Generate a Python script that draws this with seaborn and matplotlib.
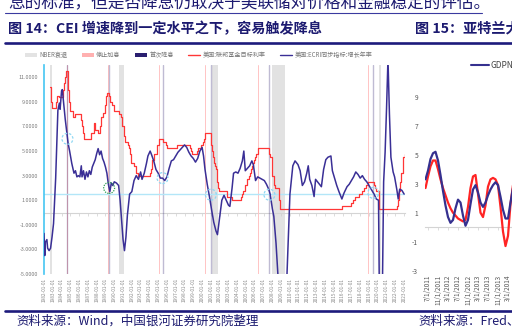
import numpy as np
import pandas as pd
import matplotlib
matplotlib.use("Agg")
import matplotlib.pyplot as plt
from matplotlib.patches import Patch
from matplotlib.lines import Line2D
import seaborn as sns

# ---------------- data: left panel ----------------
# US ECRI coincident index, growth rate yoy (%)
ecri_dates = [
    "1982-01-01", "1982-02-01", "1982-03-01", "1982-05-01", "1982-06-01", "1982-08-01", "1982-10-01",
    "1982-12-01", "1983-02-01", "1983-03-01", "1983-05-01", "1983-07-01", "1983-08-01", "1983-10-01",
    "1983-11-01", "1984-01-01", "1984-02-01", "1984-04-01", "1984-06-01", "1984-08-01", "1984-10-01",
    "1984-12-01", "1985-03-01", "1985-06-01", "1985-08-01", "1985-10-01", "1985-12-01", "1986-02-01",
    "1986-04-01", "1986-05-01", "1986-07-01", "1986-09-01", "1986-11-01", "1987-01-01", "1987-03-01",
    "1987-05-01", "1987-07-01", "1987-09-01", "1987-11-01", "1988-01-01", "1988-03-01", "1988-05-01",
    "1988-07-01", "1988-09-01", "1988-11-01", "1989-01-01", "1989-03-01", "1989-05-01", "1989-07-01",
    "1989-09-01", "1989-11-01", "1990-01-01", "1990-04-01", "1990-07-01", "1990-09-01", "1990-11-01",
    "1991-01-01", "1991-03-01", "1991-05-01", "1991-07-01", "1991-10-01", "1992-01-01", "1992-04-01",
    "1992-07-01", "1992-10-01", "1993-01-01", "1993-03-01", "1993-06-01", "1993-09-01", "1993-11-01",
    "1994-02-01", "1994-04-01", "1994-07-01", "1994-10-01", "1995-01-01", "1995-04-01", "1995-07-01",
    "1995-10-01", "1996-01-01", "1996-04-01", "1996-07-01", "1996-10-01", "1997-01-01", "1997-04-01",
    "1997-07-01", "1997-10-01", "1998-01-01", "1998-04-01", "1998-07-01", "1998-10-01", "1999-01-01",
    "1999-04-01", "1999-07-01", "1999-10-01", "2000-01-01", "2000-03-01", "2000-05-01", "2000-08-01",
    "2000-11-01", "2001-02-01", "2001-05-01", "2001-08-01", "2001-10-01", "2002-01-01", "2002-04-01",
    "2002-07-01", "2002-10-01", "2003-01-01", "2003-03-01", "2003-06-01", "2003-08-01", "2003-11-01",
    "2004-02-01", "2004-05-01", "2004-08-01", "2004-10-01", "2004-12-01", "2005-03-01", "2005-06-01",
    "2005-09-01", "2005-11-01", "2006-02-01", "2006-05-01", "2006-08-01", "2006-11-01", "2007-02-01",
    "2007-05-01", "2007-08-01", "2007-10-01", "2008-01-01", "2008-03-01", "2008-06-01", "2008-09-01",
    "2009-01-01", "2009-05-01", "2009-09-01", "2010-01-01", "2010-05-01", "2010-08-01", "2010-12-01",
    "2011-03-01", "2011-06-01", "2011-09-01", "2011-12-01", "2012-02-01", "2012-04-01", "2012-07-01",
    "2012-10-01", "2012-12-01", "2013-04-01", "2013-08-01", "2013-11-01", "2014-02-01", "2014-05-01",
    "2014-09-01", "2014-11-01", "2015-02-01", "2015-05-01", "2015-08-01", "2015-12-01", "2016-03-01",
    "2016-07-01", "2016-10-01", "2017-01-01", "2017-04-01", "2017-07-01", "2017-10-01", "2018-01-01",
    "2018-04-01", "2018-07-01", "2018-10-01", "2019-01-01", "2019-04-01", "2019-08-01", "2019-11-01",
    "2020-02-01", "2020-04-01", "2020-07-01", "2020-09-01", "2020-11-01", "2021-01-01", "2021-03-01",
    "2021-05-01", "2021-07-01", "2021-10-01", "2021-12-01", "2022-03-01", "2022-05-01", "2022-07-01",
    "2022-10-01", "2023-01-01",
]
ecri_values = [
    -1.7, -3.5, -2.4, -2.2, -2.9, -3.1, -2.9,
    -2.0, -0.9, 0.3, 2.8, 6.5, 8.3, 8.9,
    8.4, 9.9, 10.0, 8.8, 7.6, 6.6, 5.6,
    5.0, 4.0, 3.2, 3.4, 2.9, 3.0, 2.9,
    3.8, 2.9, 3.4, 2.7, 3.3, 2.9, 3.4,
    3.1, 3.7, 4.0, 4.3, 4.8, 5.2, 4.7,
    5.0, 4.4, 4.1, 3.7, 3.2, 2.3, 1.7,
    2.4, 2.2, 2.5, 2.4, 2.2, 1.0, -0.6,
    -2.2, -3.1, -2.0, -0.2, 1.5, 1.7, 2.6,
    3.0, 2.7, 3.3, 2.7, 3.2, 4.0, 4.6,
    5.0, 4.7, 4.2, 3.5, 3.2, 2.8, 2.8,
    2.6, 2.9, 3.6, 4.2, 4.3, 4.6, 4.9,
    5.1, 5.3, 5.5, 5.3, 4.9, 4.6, 4.4,
    4.1, 4.4, 5.0, 5.3, 4.6, 3.5, 2.3,
    1.3, 0.2, -0.8, -1.5, -1.8, -0.4, 1.0,
    1.4, 1.0, 0.6, 0.5, 2.0, 3.2, 3.3,
    3.2, 3.6, 4.2, 5.0, 3.4, 3.6, 3.8,
    4.2, 3.9, 2.6, 2.9, 2.8, 2.7, 2.6,
    2.3, 1.9, 1.5, 0.3, -0.3, -2.5, -5.5,
    -10.0, -9.0, -5.0, 1.5, 3.8, 4.2, 3.9,
    3.4, 2.2, 2.5, 3.2, 3.8, 2.7, 2.2,
    1.3, 2.7, 2.4, 2.1, 3.5, 4.3, 4.5,
    4.6, 3.4, 2.8, 2.2, 1.7, 1.1, 1.6,
    2.1, 2.3, 2.6, 2.9, 3.3, 3.1, 2.8,
    3.0, 2.7, 2.5, 2.2, 1.9, 1.5, 1.1,
    1.0, -12.0, -8.0, 2.5, 4.9, 8.5, 12.5,
    8.0, 4.5, 3.3, 2.9, 1.9, 1.1, 1.9,
    1.8, 1.5,
]

# US federal funds target rate (%)
ffr_dates = [
    "1982-09-01", "1982-10-01", "1982-11-01", "1982-12-01", "1983-05-01", "1983-06-01", "1983-07-01",
    "1983-10-01", "1984-03-01", "1984-04-01", "1984-06-01", "1984-07-01", "1984-10-01", "1984-11-01",
    "1984-12-01", "1985-05-01", "1985-07-01", "1986-03-01", "1986-05-01", "1986-07-01", "1986-08-01",
    "1987-05-01", "1987-09-01", "1987-11-01", "1988-03-01", "1988-05-01", "1988-07-01", "1988-09-01",
    "1988-12-01", "1989-02-01", "1989-03-01", "1989-06-01", "1989-07-01", "1989-10-01", "1989-12-01",
    "1990-07-01", "1990-10-01", "1990-11-01", "1990-12-01", "1991-02-01", "1991-04-01", "1991-08-01",
    "1991-09-01", "1991-11-01", "1991-12-01", "1992-04-01", "1992-07-01", "1992-09-01", "1994-02-01",
    "1994-03-01", "1994-04-01", "1994-05-01", "1994-08-01", "1994-11-01", "1995-02-01", "1995-07-01",
    "1995-12-01", "1996-01-01", "1997-03-01", "1998-09-01", "1998-10-01", "1998-11-01", "1999-06-01",
    "1999-08-01", "1999-11-01", "2000-02-01", "2000-03-01", "2000-05-01", "2001-01-01", "2001-03-01",
    "2001-04-01", "2001-05-01", "2001-06-01", "2001-08-01", "2001-09-01", "2001-10-01", "2001-11-01",
    "2001-12-01", "2002-11-01", "2003-06-01", "2004-06-01", "2004-08-01", "2004-09-01", "2004-11-01",
    "2004-12-01", "2005-02-01", "2005-03-01", "2005-05-01", "2005-06-01", "2005-08-01", "2005-09-01",
    "2005-11-01", "2005-12-01", "2006-01-01", "2006-03-01", "2006-05-01", "2006-06-01", "2007-09-01",
    "2007-10-01", "2007-12-01", "2008-01-01", "2008-03-01", "2008-04-01", "2008-10-01", "2008-12-01",
    "2015-12-01", "2016-12-01", "2017-03-01", "2017-06-01", "2017-12-01", "2018-03-01", "2018-06-01",
    "2018-09-01", "2018-12-01", "2019-08-01", "2019-09-01", "2019-10-01", "2020-03-01", "2022-03-01",
    "2022-05-01", "2022-06-01", "2022-07-01", "2022-09-01", "2022-11-01", "2022-12-01", "2023-02-01",
]
ffr_values = [
    10.25, 9.5, 9.0, 8.5, 8.75, 9.0, 9.5,
    9.4, 10.0, 10.5, 11.0, 11.5, 10.0, 9.0,
    8.25, 7.75, 8.0, 7.5, 7.0, 6.5, 6.0,
    6.5, 7.25, 6.75, 6.5, 7.0, 7.75, 8.125,
    8.75, 9.5, 9.75, 9.5, 9.0, 8.75, 8.25,
    8.0, 7.75, 7.5, 7.0, 6.25, 5.75, 5.5,
    5.25, 4.75, 4.0, 3.75, 3.25, 3.0, 3.25,
    3.5, 3.75, 4.25, 4.75, 5.5, 6.0, 5.75,
    5.5, 5.25, 5.5, 5.25, 5.0, 4.75, 5.0,
    5.25, 5.5, 5.75, 6.0, 6.5, 5.5, 5.0,
    4.5, 4.0, 3.75, 3.5, 3.0, 2.5, 2.0,
    1.75, 1.25, 1.0, 1.25, 1.5, 1.75, 2.0,
    2.25, 2.5, 2.75, 3.0, 3.25, 3.5, 3.75,
    4.0, 4.25, 4.5, 4.75, 5.0, 5.25, 4.75,
    4.5, 4.25, 3.0, 2.25, 2.0, 1.0, 0.25,
    0.5, 0.75, 1.0, 1.25, 1.5, 1.75, 2.0,
    2.25, 2.5, 2.25, 2.0, 1.75, 0.25, 0.5,
    1.0, 1.75, 2.5, 3.25, 4.0, 4.5, 4.75,
]

nber_start = ["1982-09-01", "1990-07-01", "2001-03-01", "2007-12-01", "2020-02-01"]
nber_end = ["1982-12-15", "1991-03-01", "2001-11-01", "2009-06-01", "2020-05-01"]
hike_stop_dates = ["1984-08-01", "1989-05-01", "1995-02-01", "2000-05-01", "2006-06-01", "2018-12-01"]
first_cut_dates = ["1984-09-01", "1989-06-01", "1995-07-01", "2001-01-01", "2007-09-01", "2019-07-01"]
cut_marker_values = [6.0, 2.0, 2.8, 1.45, 1.45, 1.6]
cut_marker_kind = ["c", "g", "c", "c", "c", "c"]
threshold_level = 1.5
year_ticks = list(range(1982, 2024))
y_ticks_left = [-5, -3, -1, 1, 3, 5, 7, 9, 11]

# ---------------- data: right panel ----------------
gdp_months = pd.date_range("2011-06-01", "2014-05-01", freq="MS")
gdpnow_values = [
    3.3, 3.9, 4.7, 5.1, 5.2, 4.6, 3.6,
    2.5, 1.5, 0.7, 0.3, 0.5, 1.3, 1.9, 1.7, 0.8, 0.1, 0.5, 1.6,
    2.6, 2.9, 2.4, 1.7, 1.4, 1.7, 2.2, 2.6, 2.9, 3.1, 2.9, 2.1,
    1.2, 0.6, 0.6, 1.7, 2.7,
]
gdp_actual_values = [
    2.7, 3.5, 4.2, 4.6, 4.6, 4.0, 3.3,
    2.7, 2.2, 1.7, 1.3, 1.0, 0.8, 0.6, 0.5, 0.4, 0.5, 1.4, 2.7,
    3.5, 3.6, 2.3, 1.0, 0.7, 1.5, 2.8, 3.3, 3.4, 3.3, 2.9, 1.4,
    -0.3, -1.3, -0.6, 1.6, 2.9,
]
right_y_ticks = [-3, -1, 1, 3, 5, 7, 9]

# ---------------- style ----------------
sns.set_theme(style="white")
plt.rcParams["font.family"] = ["Noto Sans CJK SC", "DejaVu Sans"]
plt.rcParams["axes.unicode_minus"] = False

NAVY = "#3a2f96"
RED = "#ff3636"
TXT_NAVY = "#1c1a70"
CYAN = "#45c6f2"


def dec_year(dates):
    d = pd.to_datetime(pd.Series(dates))
    return (d.dt.year + (d.dt.dayofyear - 1) / 365.25).to_numpy()


W, H = 512, 328
fig = plt.figure(figsize=(W / 100, H / 100), dpi=100)
fig.patch.set_facecolor("white")


def fx(px):
    return px / W


def fy(py):
    return 1 - py / H


# ---------------- left panel ----------------
ax = fig.add_axes([fx(44), fy(274), fx(405) - fx(44), fy(65) - fy(274)])
ax.set_facecolor("white")
ymin, ymax = -5, 12
ax.set_xlim(1982.0, 2023.1)
ax.set_ylim(ymin, ymax)

for s, e in zip(dec_year(nber_start), dec_year(nber_end)):
    ax.axvspan(s, e, color="#e2e2e2", lw=0, zorder=0)
for d in dec_year(hike_stop_dates):
    ax.axvline(d, color="#ffc4c4", lw=0.7, zorder=1)
for d in dec_year(first_cut_dates):
    ax.axvline(d, color="#2b2070", alpha=0.3, lw=1.0, zorder=1)

ax.axhline(threshold_level, color="#b3e6f8", lw=1.0, zorder=1)

ffr_df = pd.DataFrame({"x": dec_year(ffr_dates), "v": ffr_values})
sns.lineplot(data=ffr_df, x="x", y="v", ax=ax, color=RED, lw=0.9,
             drawstyle="steps-post", estimator=None, sort=False, zorder=3)
ecri_df = pd.DataFrame({"x": dec_year(ecri_dates), "v": ecri_values})
sns.lineplot(data=ecri_df, x="x", y="v", ax=ax, color=NAVY, lw=1.1,
             estimator=None, sort=False, zorder=4)

cut_df = pd.DataFrame({"x": dec_year(first_cut_dates), "v": cut_marker_values,
                       "k": cut_marker_kind})
for kind, col, ls in [("c", "#8ed8f3", (0, (2, 1.5))), ("g", "#2f9e54", (0, (1, 1)))]:
    sub = cut_df[cut_df["k"] == kind]
    sns.scatterplot(data=sub, x="x", y="v", ax=ax, s=62, facecolors="none",
                    edgecolor=col, linewidth=0.9, linestyle=ls, zorder=5)

ax.set_xlabel("")
ax.set_ylabel("")
for sp in ["top", "right", "bottom"]:
    ax.spines[sp].set_visible(False)
ax.spines["left"].set_color(CYAN)
ax.spines["left"].set_linewidth(1.2)

ax.set_yticks(y_ticks_left)
ax.set_yticklabels([f"{v:.4f}" for v in y_ticks_left])
ax.set_yticks(np.arange(ymin, ymax + 0.01, 0.5), minor=True)
ax.tick_params(axis="y", which="major", length=2.5, direction="in", color=CYAN,
               labelsize=3.9, labelcolor="#7a7a7a", pad=4)
ax.tick_params(axis="y", which="minor", length=1.5, direction="in", color=CYAN)
ax.set_xticks(year_ticks)
ax.set_xticklabels([f"{y}-01-01" for y in year_ticks])
ax.tick_params(axis="x", length=0, labelsize=3.4, labelcolor="#8a8a8a",
               labelrotation=90, pad=3)

# zero line with its small ticks
zero_frac = (0 - ymin) / (ymax - ymin)
sec = ax.secondary_xaxis(zero_frac)
sec.set_xticks(year_ticks)
sec.tick_params(axis="x", length=1.8, width=0.5, color="#cfcfcf",
                labelbottom=False, labeltop=False)
for sp in sec.spines.values():
    sp.set_color("#d4d4d4")
    sp.set_linewidth(0.8)

handles = [
    Patch(facecolor="#e3e3e3", edgecolor="none"),
    Patch(facecolor="#ffb0b0", edgecolor="none"),
    Patch(facecolor="#2a1f70", edgecolor="none"),
    Line2D([], [], color=RED, lw=1.0),
    Line2D([], [], color=NAVY, lw=1.0),
]
labels = ["NBER衰退", "停止加息", "首次降息", "美国:联邦基金目标利率", "美国:ECRI同步指标:增长年率"]
ax.legend(handles, labels, ncol=5, loc="center", bbox_to_anchor=(0.428, 1.048),
          frameon=False, fontsize=4.4, labelcolor="#777777", handlelength=2.0,
          handleheight=0.8, columnspacing=2.3, handletextpad=0.4, borderpad=0)

# ---------------- right panel ----------------
m_index = (gdp_months.year - 2011) * 12 + (gdp_months.month - 7)
ax2 = fig.add_axes([fx(425), fy(270.7), fx(528) - fx(425), fy(67.7) - fy(270.7)])
ax2.set_facecolor("none")
r_ymin, r_ymax = -3, 11
ax2.set_xlim(-1.2, 40)
ax2.set_ylim(r_ymin, r_ymax)
right_df = pd.DataFrame({"m": np.asarray(m_index), "now": gdpnow_values,
                         "act": gdp_actual_values})
sns.lineplot(data=right_df, x="m", y="act", ax=ax2, color="#ff2424", lw=1.6,
             estimator=None, sort=False)
sns.lineplot(data=right_df, x="m", y="now", ax=ax2, color="#35308f", lw=1.6,
             estimator=None, sort=False)
ax2.set_xlabel("")
ax2.set_ylabel("")
for sp in ax2.spines.values():
    sp.set_visible(False)
ax2.set_yticks(right_y_ticks)
ax2.set_yticklabels([str(v) for v in right_y_ticks])
ax2.tick_params(axis="y", length=0, labelsize=4.8, labelcolor="#555555", pad=5)
r_ticks = list(range(0, 37, 4))
r_labels = []
for m in r_ticks:
    yy = 2011 + (7 + m - 1) // 12
    mm = (7 + m - 1) % 12 + 1
    r_labels.append(f"{mm}/1/{yy}")
ax2.set_xticks(r_ticks)
ax2.set_xticklabels(r_labels)
ax2.tick_params(axis="x", length=0, labelsize=4.6, labelcolor="#555555",
                labelrotation=90, pad=3)
sec2 = ax2.secondary_xaxis((0 - r_ymin) / (r_ymax - r_ymin))
sec2.set_xticks(r_ticks)
sec2.tick_params(axis="x", length=1.8, width=0.5, color="#cfcfcf",
                 labelbottom=False, labeltop=False)
for sp in sec2.spines.values():
    sp.set_color("#d4d4d4")
    sp.set_linewidth(0.8)
ax2.legend([Line2D([], [], color="#35308f", lw=1.5)], ["GDPNow"], loc="center left",
           bbox_to_anchor=(fx(471), fy(65)), bbox_transform=fig.transFigure,
           frameon=False, fontsize=6, labelcolor="#444444", handlelength=2.2,
           handletextpad=0.1, borderpad=0, borderaxespad=0)

# ---------------- page text ----------------
fig.text(fx(8), fy(3.5), "息的标准，但是否降息仍取决于美联储对价格和金融稳定的评估。",
         fontsize=12, color=TXT_NAVY, va="center", ha="left")
fig.add_artist(Line2D([fx(5), fx(482)], [fy(13), fy(13)], color="#3a3aa0", lw=0.8,
                      transform=fig.transFigure))
fig.text(fx(8), fy(28.5), "图 14：CEI 增速降到一定水平之下，容易触发降息",
         fontsize=10.2, weight="bold", color=TXT_NAVY, va="center", ha="left")
fig.text(fx(415), fy(28.5), "图 15：亚特兰大",
         fontsize=10.2, weight="bold", color=TXT_NAVY, va="center", ha="left")
fig.add_artist(Line2D([fx(5), 1], [fy(43), fy(43)], color="#1d1a7c", lw=1.9,
                      transform=fig.transFigure))
fig.add_artist(Line2D([fx(5), 1], [fy(310.8), fy(310.8)], color="#1d1a7c", lw=1.9,
                      transform=fig.transFigure))
fig.text(fx(16), fy(321), "资料来源：Wind，中国银河证券研究院整理",
         fontsize=9.0, color=TXT_NAVY, va="center", ha="left", style="italic")
fig.text(fx(418), fy(321), "资料来源：Fred、",
         fontsize=9.0, color=TXT_NAVY, va="center", ha="left", style="italic")

fig.savefig("out.png", dpi=100, facecolor="white")
